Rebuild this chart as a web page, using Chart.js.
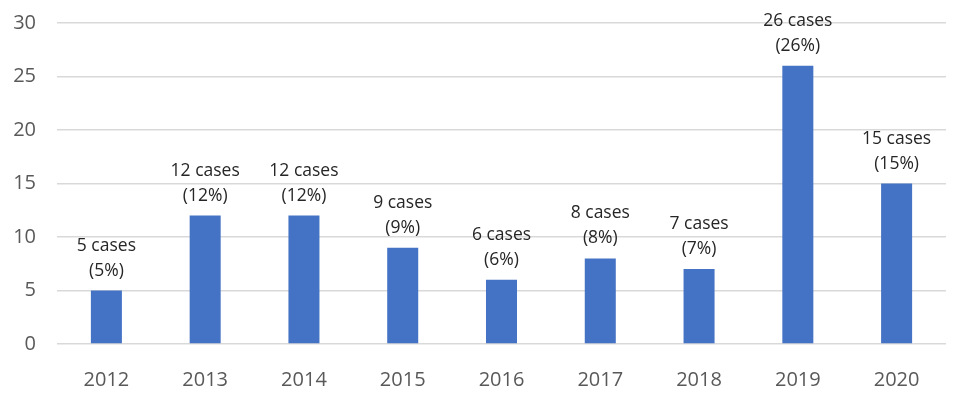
<!DOCTYPE html>
<html>
<head>
<meta charset="utf-8">
<script src="https://cdn.jsdelivr.net/npm/chart.js@4"></script>
<style>
  html, body { margin: 0; padding: 0; background: #fff; }
  #wrap { width: 968px; height: 399px; }
</style>
</head>
<body>
<div id="wrap"><canvas id="myChart" width="968" height="399"></canvas></div>
<script>
// data
const years = ['2012', '2013', '2014', '2015', '2016', '2017', '2018', '2019', '2020'];
const cases = [5, 12, 12, 9, 6, 8, 7, 26, 15];
const percents = [5, 12, 12, 9, 6, 8, 7, 26, 15];
const yTicks = [0, 5, 10, 15, 20, 25, 30];

// two-line labels above each bar
const barLabels = {
  id: 'barLabels',
  afterDatasetsDraw(chart) {
    const ctx = chart.ctx;
    const meta = chart.getDatasetMeta(0);
    ctx.save();
    ctx.font = '17.5px "Open Sans"';
    ctx.fillStyle = '#262626';
    ctx.textAlign = 'center';
    ctx.textBaseline = 'alphabetic';
    meta.data.forEach((bar, i) => {
      ctx.fillText(cases[i] + ' cases', bar.x, bar.y - 40);
      ctx.fillText('(' + percents[i] + '%)', bar.x, bar.y - 15);
    });
    ctx.restore();
  }
};

let myChart = new Chart(document.getElementById('myChart'), {
  type: 'bar',
  data: {
    labels: years,
    datasets: [{
      data: cases,
      backgroundColor: '#4472C4',
      categoryPercentage: 1,
      barPercentage: 0.314
    }]
  },
  options: {
    responsive: false,
    animation: false,
    layout: { padding: { top: 23, right: 22, left: 0, bottom: 0 } },
    plugins: { legend: { display: false }, tooltip: { enabled: false } },
    scales: {
      x: {
        grid: { display: false },
        border: { display: false },
        ticks: { color: '#595959', font: { family: 'Open Sans', size: 20 }, padding: 16 },
        afterFit(scale) { scale.height = 55; }
      },
      y: {
        min: 0,
        max: 30,
        afterBuildTicks(scale) { scale.ticks = yTicks.map(v => ({ value: v })); },
        grid: { color: '#d9d9d9', lineWidth: 1.5, drawTicks: false },
        border: { display: false },
        ticks: { color: '#595959', font: { family: 'Open Sans', size: 20 }, padding: 21 },
        afterFit(scale) {
          scale.width = 57;
          scale.paddingTop = 0;
          scale.paddingBottom = 0;
        }
      }
    }
  },
  plugins: [barLabels]
});
</script>
</body>
</html>
